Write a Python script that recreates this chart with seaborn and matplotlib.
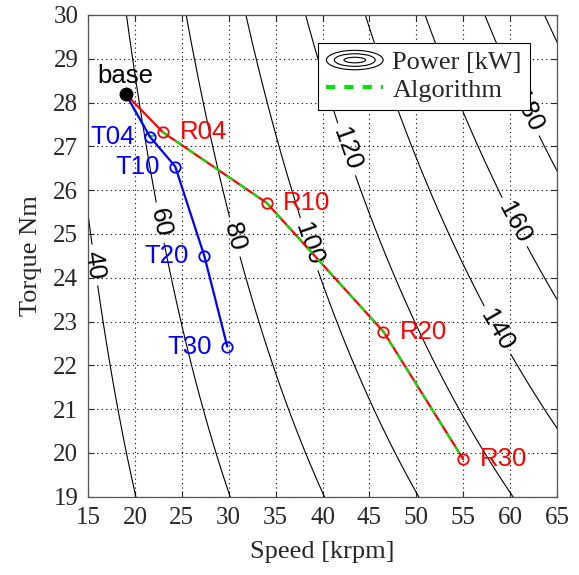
import matplotlib
matplotlib.use("Agg")
import matplotlib.pyplot as plt
from matplotlib.legend_handler import HandlerBase
from matplotlib.patches import Ellipse
import numpy as np
import pandas as pd
import seaborn as sns

# operating points (speed in krpm, torque in Nm)
BASE_SPEED = 19.0
BASE_TORQUE = 28.2
T_LABELS = ["T04", "T10", "T20", "T30"]
T_SPEED = [21.6, 24.3, 27.4, 29.85]
T_TORQUE = [27.22, 26.54, 24.5, 22.43]
R_LABELS = ["R04", "R10", "R20", "R30"]
R_SPEED = [23.0, 34.05, 46.5, 55.0]
R_TORQUE = [27.32, 25.71, 22.77, 19.86]
# algorithm path: base -> T04 -> R04 -> R10 -> R20 -> R30
ALG_SPEED = [19.0, 21.6, 23.0, 34.05, 46.5, 55.0]
ALG_TORQUE = [28.2, 27.22, 27.32, 25.71, 22.77, 19.86]

POWER_LEVELS = [40, 60, 80, 100, 120, 140, 160, 180, 200]
X_TICKS = [15, 20, 25, 30, 35, 40, 45, 50, 55, 60, 65]
Y_TICKS = [19, 20, 21, 22, 23, 24, 25, 26, 27, 28, 29, 30]

# where the contour labels sit
LABEL_SPOTS = [(16.0, 24.3), (22.5, 25.25), (30.5, 24.93), (38.35, 24.75),
               (42.4, 26.92), (58.6, 22.8), (60.3, 25.25), (61.3, 27.75)]

SERIF = "Liberation Serif"
SANS = "Liberation Sans"
GREEN = "#00e400"


class ContourProxy:
    pass


class ContourHandler(HandlerBase):
    def create_artists(self, legend, orig_handle, xdescent, ydescent,
                       width, height, fontsize, trans):
        cx = width / 2 - xdescent
        cy = height / 2 - ydescent
        arts = []
        for fw, fh in [(1.0, 1.05), (0.72, 0.68), (0.38, 0.3)]:
            arts.append(Ellipse((cx, cy), width * fw, height * fh, fill=False,
                                edgecolor="black", lw=0.8, transform=trans))
        return arts


sns.set_theme(style="ticks")
plt.rcParams["font.family"] = [SERIF, "DejaVu Sans"]

fig = plt.figure(figsize=(5.79, 5.75), dpi=100)
ax = fig.add_axes([0.152, 0.136, 0.81, 0.838])

speed = np.linspace(14, 66, 300)
torque = np.linspace(18.5, 30.5, 300)
S, T = np.meshgrid(speed, torque)
P = T * S * np.pi / 30
cs = ax.contour(S, T, P, levels=POWER_LEVELS, colors="black", linewidths=0.8)
lbls = ax.clabel(cs, fmt="%d", fontsize=18.5, inline=True, inline_spacing=6,
                 manual=LABEL_SPOTS)
for t in lbls:
    t.set_family(SANS)

t_df = pd.DataFrame({"speed": [BASE_SPEED] + T_SPEED,
                     "torque": [BASE_TORQUE] + T_TORQUE})
r_df = pd.DataFrame({"speed": [BASE_SPEED] + R_SPEED,
                     "torque": [BASE_TORQUE] + R_TORQUE})
a_df = pd.DataFrame({"speed": ALG_SPEED, "torque": ALG_TORQUE})

sns.lineplot(data=r_df, x="speed", y="torque", sort=False, estimator=None,
             color="red", lw=1.6, ax=ax, zorder=4)
sns.lineplot(data=a_df, x="speed", y="torque", sort=False, estimator=None,
             color=GREEN, lw=1.6, ls=(0, (3.5, 3.5)), ax=ax, zorder=4.1)
sns.lineplot(data=t_df, x="speed", y="torque", sort=False, estimator=None,
             color="blue", lw=1.6, ax=ax, zorder=4.2)

ax.plot(R_SPEED, R_TORQUE, "o", ms=7.5, mfc="none", mec="red", mew=1.3, zorder=4.3)
ax.plot(T_SPEED, T_TORQUE, "o", ms=7.5, mfc="none", mec="blue", mew=1.3, zorder=4.3)
ax.plot([BASE_SPEED], [BASE_TORQUE], "o", ms=9, color="black", zorder=4.4)

for lab, x, y in zip(T_LABELS, T_SPEED, T_TORQUE):
    ax.annotate(lab, (x, y), xytext=(-11, 0), textcoords="offset points",
                ha="right", va="center", color="blue", fontsize=18.5, family=SANS)
for lab, x, y in zip(R_LABELS, R_SPEED, R_TORQUE):
    ax.annotate(lab, (x, y), xytext=(12, 0), textcoords="offset points",
                ha="left", va="center", color="red", fontsize=18.5, family=SANS)
ax.annotate("base", (BASE_SPEED, BASE_TORQUE), xytext=(0, 4),
            textcoords="offset points", ha="center", va="bottom",
            color="black", fontsize=18.5, family=SANS)

ax.set_xlim(15, 65)
ax.set_ylim(19, 30)
ax.set_xticks(X_TICKS)
ax.set_yticks(Y_TICKS)
ax.grid(True, color="black", ls=(0, (1, 3)), lw=0.8)
ax.tick_params(direction="in", top=True, right=True, length=4, width=0.8,
               labelsize=18, colors="#262626", pad=7)
for sp in ax.spines.values():
    sp.set_color("#555555")
    sp.set_linewidth(0.9)
ax.set_xlabel("Speed [krpm]", fontsize=19, color="#262626", labelpad=9)
ax.set_ylabel("Torque Nm", fontsize=19, color="#262626", labelpad=8)

alg_line = plt.Line2D([], [], color=GREEN, lw=3, ls=(0, (2.2, 2.2)))
leg = ax.legend([ContourProxy(), alg_line], ["Power [kW]", "Algorithm"],
                handler_map={ContourProxy: ContourHandler()},
                loc="upper right", bbox_to_anchor=(0.942, 0.942),
                borderaxespad=0, fontsize=19, handlelength=2.15,
                handletextpad=0.35, labelspacing=0.15, borderpad=0.3,
                fancybox=False, framealpha=1, edgecolor="black")
leg.get_frame().set_linewidth(0.8)
leg.set_zorder(10)

fig.savefig("out.png", dpi=100)
